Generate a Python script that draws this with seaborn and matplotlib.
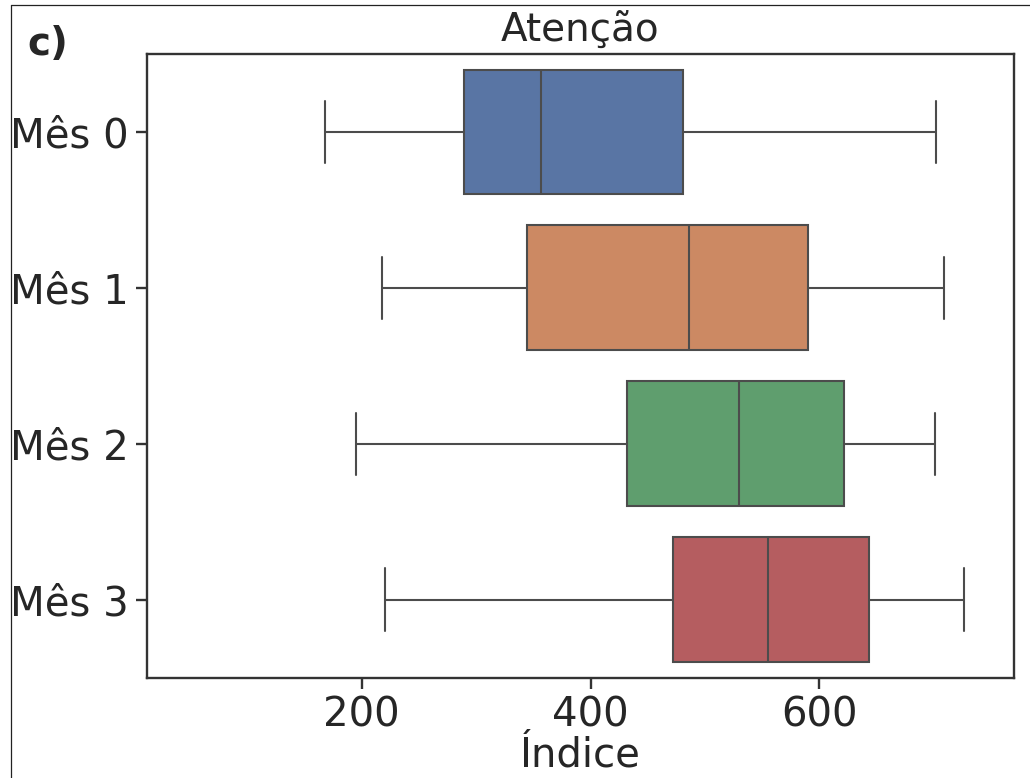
import matplotlib
matplotlib.use("Agg")
import matplotlib.pyplot as plt
from matplotlib.lines import Line2D
import seaborn as sns
import pandas as pd

# Values (min whisker, Q1, median, Q3, max whisker)
categories = ["Mês 0", "Mês 1", "Mês 2", "Mês 3"]
mes0 = [168, 289, 357, 481, 702]
mes1 = [218, 344, 486, 590, 709]
mes2 = [195, 432, 530, 621, 701]
mes3 = [220, 472, 555, 643, 726]
xticks = [200, 400, 600]

df = pd.DataFrame({
    "Mês": [c for c, vals in zip(categories, [mes0, mes1, mes2, mes3]) for _ in vals],
    "Índice": mes0 + mes1 + mes2 + mes3,
})

sns.set_theme(style="ticks", palette="deep")
plt.rcParams["font.family"] = ["DejaVu Sans"]
plt.rcParams["text.color"] = "#262626"
plt.rcParams["axes.labelcolor"] = "#262626"
plt.rcParams["xtick.color"] = "#262626"
plt.rcParams["ytick.color"] = "#262626"

fig = plt.figure(figsize=(10.30, 7.78), dpi=100)
ax = fig.add_axes([146.7 / 1030, 1 - 677.5 / 778, (1014 - 146.7) / 1030, (677.5 - 54) / 778])

sns.boxplot(data=df, x="Índice", y="Mês", hue="Mês", order=categories,
            palette="deep", whis=(0, 100), linewidth=1.5, ax=ax, legend=False)

ax.set_xlim(12, 770)
ax.set_xticks(xticks)
ax.set_xticklabels([str(t) for t in xticks])
for s in ax.spines.values():
    s.set_linewidth(1.7)
    s.set_color("#333333")
ax.tick_params(axis="both", labelsize=29, length=8, width=1.7, pad=5, colors="#333333",
               labelcolor="#262626")
ax.set_ylabel("")
ax.set_xlabel("Índice", fontsize=29, labelpad=0)
ax.set_title("Atenção", fontsize=28, pad=9)

fig.text(27 / 1030, 1 - 55 / 778, "c)", fontsize=28, fontweight="bold", color="#262626")

# thin frame lines of the panel (left and top)
fig.add_artist(Line2D([10.5 / 1030, 10.5 / 1030], [0, 1 - 5.3 / 778], color="#222222",
                      linewidth=0.9, transform=fig.transFigure))
fig.add_artist(Line2D([10.5 / 1030, 1], [1 - 5.3 / 778, 1 - 5.3 / 778], color="#222222",
                      linewidth=0.9, transform=fig.transFigure))

fig.savefig("out.png", dpi=100)
